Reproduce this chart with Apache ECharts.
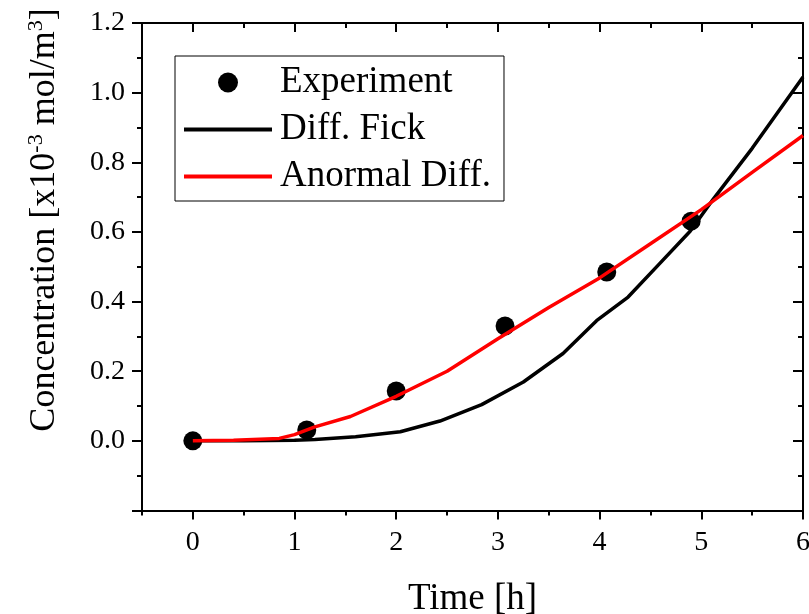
<!DOCTYPE html>
<html>
<head>
<meta charset="utf-8">
<script src="https://cdn.jsdelivr.net/npm/echarts@6/dist/echarts.min.js"></script>
<style>html,body{margin:0;padding:0;background:#fff;overflow:hidden;}#c{width:809px;height:614px;}</style>
</head>
<body>
<div id="c"></div>
<script>
// Data
const experimentX = [0, 1.12, 2.0, 3.07, 4.07, 4.9];
const experimentY = [0, 0.031, 0.143, 0.330, 0.485, 0.631];

const fickX = [0, 0.5, 1.0, 1.2, 1.6, 2.04, 2.43, 2.84, 3.25, 3.64, 3.97, 4.28, 4.59, 4.89, 5.12, 5.5, 6.0];
const fickY = [0, 0.0, 0.002, 0.004, 0.012, 0.026, 0.057, 0.104, 0.169, 0.251, 0.345, 0.413, 0.509, 0.602, 0.695, 0.84, 1.045];

const anormalX = [0, 0.4, 0.85, 1.0, 1.2, 1.55, 2.0, 2.5, 3.0, 3.5, 4.0, 4.5, 5.0, 5.5, 6.0];
const anormalY = [0, 0.002, 0.007, 0.018, 0.04, 0.07, 0.128, 0.2, 0.293, 0.383, 0.468, 0.566, 0.664, 0.771, 0.877];

const xMajorTicks = [0, 1, 2, 3, 4, 5, 6];
const yMajorTicks = [-0.2, 0, 0.2, 0.4, 0.6, 0.8, 1.0, 1.2];
const yTickLabels = [0, 0.2, 0.4, 0.6, 0.8, 1.0, 1.2];

const legendNames = ['Experiment', 'Diff. Fick', 'Anormal Diff.'];

const FONT = "'Liberation Serif', 'Times New Roman', serif";
const zip = (xs, ys) => xs.map((x, i) => [x, ys[i]]);

const chart = echarts.init(document.getElementById('c'), null, {renderer: 'canvas'});

const lineBlack = {color: '#000', width: 2};
function xAx(pos, minor, inside, extra) {
  return Object.assign({
    type: 'value', position: pos, min: -0.5, max: 6, interval: 0.5,
    axisLine: {show: minor, onZero: false, lineStyle: lineBlack},
    axisTick: {show: true, inside: inside, length: minor ? 5 : 9, lineStyle: lineBlack},
    axisLabel: {show: false},
    splitLine: {show: false}
  }, extra || {});
}
function yAx(pos, minor, inside, extra) {
  return Object.assign({
    type: 'value', position: pos, min: -0.2, max: 1.2, interval: 0.1,
    axisLine: {show: minor, onZero: false, lineStyle: lineBlack},
    axisTick: {show: true, inside: inside, length: minor ? 5 : 10, lineStyle: lineBlack},
    axisLabel: {show: false},
    splitLine: {show: false}
  }, extra || {});
}

const option = {
  animation: false,
  backgroundColor: '#fff',
  grid: {left: 142, right: 6, top: 23, bottom: 103.5, containLabel: false, outerBoundsMode: 'none'},
  xAxis: [
    xAx('bottom', true, false),
    xAx('bottom', false, false, {
      axisTick: {show: true, inside: false, length: 9, lineStyle: lineBlack, customValues: xMajorTicks},
      axisLabel: {show: true, customValues: xMajorTicks, fontFamily: FONT, fontSize: 28, color: '#000', margin: 18,
        formatter: v => String(Math.round(v))},
      name: 'Time [h]', nameLocation: 'middle', nameGap: 70,
      nameTextStyle: {fontFamily: FONT, fontSize: 37, color: '#000'}
    }),
    xAx('top', true, true),
    xAx('top', false, true, {
      axisTick: {show: true, inside: true, length: 9, lineStyle: lineBlack, customValues: xMajorTicks}
    })
  ],
  yAxis: [
    yAx('left', true, false),
    yAx('left', false, false, {
      axisTick: {show: true, inside: false, length: 10, lineStyle: lineBlack, customValues: yMajorTicks},
      axisLabel: {show: true, customValues: yTickLabels, fontFamily: FONT, fontSize: 28, color: '#000', margin: 17,
        formatter: v => v.toFixed(1)}
    }),
    yAx('right', true, true),
    yAx('right', false, true, {
      axisTick: {show: true, inside: true, length: 10, lineStyle: lineBlack, customValues: yMajorTicks}
    })
  ],
  legend: {
    left: 175, top: 56, orient: 'vertical',
    itemWidth: 88, itemHeight: 20, itemGap: 10,
    padding: [8, 13, 6, 7],
    borderColor: '#000', borderWidth: 1,
    textStyle: {fontFamily: FONT, fontSize: 37, color: '#000', lineHeight: 37, padding: [0, 0, 0, 3]},
    data: [
      {name: legendNames[0]},
      {name: legendNames[1], itemStyle: {opacity: 0}, lineStyle: {width: 4}},
      {name: legendNames[2], itemStyle: {opacity: 0}, lineStyle: {width: 4}}
    ]
  },
  graphic: [{
    type: 'text', x: 45, y: 220, rotation: Math.PI / 2,
    style: {
      text: '{a|Concentration [x10}{s|-3}{a| mol/m}{s|3}{a|]}',
      align: 'center', verticalAlign: 'middle',
      rich: {
        a: {fontFamily: FONT, fontSize: 36, fill: '#000', lineHeight: 40},
        s: {fontFamily: FONT, fontSize: 22, fill: '#000', verticalAlign: 'top', lineHeight: 40}
      }
    }
  }],
  series: [
    {
      name: legendNames[1], type: 'line', xAxisIndex: 0, yAxisIndex: 0,
      data: zip(fickX, fickY), symbol: 'none', smooth: false,
      lineStyle: {color: '#000', width: 3.5}, itemStyle: {color: '#000'}, z: 2
    },
    {
      name: legendNames[2], type: 'line', xAxisIndex: 0, yAxisIndex: 0,
      data: zip(anormalX, anormalY), symbol: 'none', smooth: false,
      lineStyle: {color: '#ff0000', width: 3.5}, itemStyle: {color: '#ff0000'}, z: 4
    },
    {
      name: legendNames[0], type: 'scatter', xAxisIndex: 0, yAxisIndex: 0,
      data: zip(experimentX, experimentY), symbol: 'circle', symbolSize: 19,
      itemStyle: {color: '#000', opacity: 1}, z: 3
    }
  ]
};
chart.setOption(option);
</script>
</body>
</html>
